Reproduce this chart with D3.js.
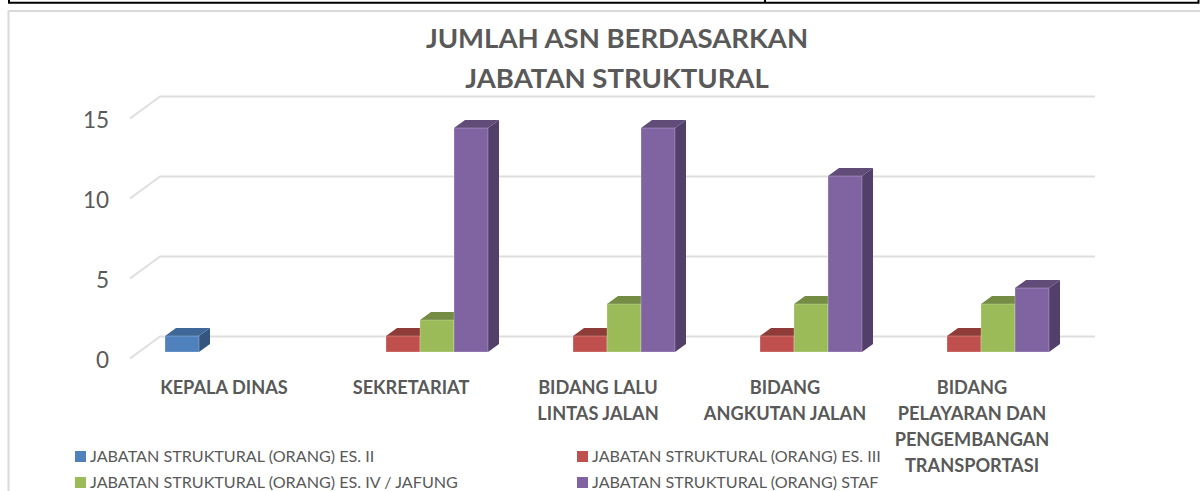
<!DOCTYPE html>
<html>
<head>
<meta charset="utf-8">
<script src="https://cdn.jsdelivr.net/npm/d3@7"></script>
<style>
html, body { margin: 0; padding: 0; background: #fff; }
svg { display: block; }
text { font-family: Lato, "Open Sans", sans-serif; fill: #595959; }
</style>
</head>
<body>
<div id="chart"></div>
<script>
// data
var categories = ["KEPALA DINAS", "SEKRETARIAT", "BIDANG LALU LINTAS JALAN", "BIDANG ANGKUTAN JALAN", "BIDANG PELAYARAN DAN PENGEMBANGAN TRANSPORTASI"];
var categoryLines = [
    ["KEPALA DINAS"],
    ["SEKRETARIAT"],
    ["BIDANG LALU", "LINTAS JALAN"],
    ["BIDANG", "ANGKUTAN JALAN"],
    ["BIDANG", "PELAYARAN DAN", "PENGEMBANGAN", "TRANSPORTASI"]
];
var seriesNames = [
    "JABATAN STRUKTURAL (ORANG) ES. II",
    "JABATAN STRUKTURAL (ORANG) ES. III",
    "JABATAN STRUKTURAL (ORANG) ES. IV / JAFUNG",
    "JABATAN STRUKTURAL (ORANG) STAF"
];
var es2 = [1, null, null, null, null];
var es3 = [null, 1, 1, 1, 1];
var es4 = [null, 2, 3, 3, 3];
var staf = [null, 14, 14, 11, 4];
var yTicks = [0, 5, 10, 15];
var titleLines = ["JUMLAH ASN BERDASARKAN", "JABATAN STRUKTURAL"];

var seriesValues = [es2, es3, es4, staf];
var front = ["#4f81bd", "#c0504d", "#9bbb59", "#8064a2"];
var topFace = ["#3f6797", "#8f3c39", "#748c43", "#604b79"];
var sideFace = ["#34567e", "#7a3331", "#62773a", "#523f6a"];

var width = 1200, height = 491;
var svg = d3.select("#chart")
    .append("svg")
    .attr("width", width)
    .attr("height", height);

// frame of the page around the chart
svg.append("rect").attr("x", 8.5).attr("y", 11).attr("width", 1300).attr("height", 600)
    .attr("fill", "none").attr("stroke", "#d9d9d9").attr("stroke-width", 2);
svg.append("path").attr("d", "M9,0V2.8H1198.5V0M765,0V2.8")
    .attr("fill", "none").attr("stroke", "#000").attr("stroke-width", 2);

// scales
var xScale = d3.scaleBand()
    .domain(categories)
    .range([139.5, 1074.5])
    .paddingInner(51 / 187)
    .paddingOuter(25.5 / 187);
var xInner = d3.scaleBand()
    .domain(d3.range(seriesValues.length))
    .range([0, xScale.bandwidth()]);
var yScale = d3.scaleLinear()
    .domain([0, 15])
    .range([352, 112]);

// wall depth of the 3d chart and depth of the bars
var wallX = 30, wallY = 22, backY = 15.5;
var depthX = 11, depthY = 8;
var wallLeft = 130, wallRight = 1095;

// gridlines
var grid = svg.append("g").attr("fill", "none").attr("stroke", "#dedede").attr("stroke-width", 2);
yTicks.forEach(function(t) {
    var y = yScale(t) - backY;
    grid.append("path").attr("d", "M" + wallLeft + "," + (y + wallY) + "L" + (wallLeft + wallX) + "," + y + "H" + wallRight);
});

// y axis
var yAxis = d3.axisLeft(yScale).tickValues(yTicks).tickSize(0).tickPadding(0);
var yG = svg.append("g")
    .attr("transform", "translate(109,8)")
    .call(yAxis);
yG.select(".domain").remove();
yG.selectAll("text").style("font-size", "22.5px");
yG.attr("font-family", null);

// bars
seriesValues.forEach(function(values, s) {
    var bars = svg.append("g").attr("class", "series-" + s);
    values.forEach(function(v, c) {
        if (v === null) return;
        var x0 = xScale(categories[c]) + xInner(s);
        var x1 = x0 + xInner.bandwidth();
        var y0 = yScale(0);
        var y1 = yScale(v);
        bars.append("path")
            .attr("d", "M" + x1 + "," + y0 + "L" + (x1 + depthX) + "," + (y0 - depthY) + "V" + (y1 - depthY) + "L" + x1 + "," + y1 + "Z")
            .attr("fill", sideFace[s]);
        bars.append("path")
            .attr("d", "M" + x0 + "," + y1 + "L" + (x0 + depthX) + "," + (y1 - depthY) + "H" + (x1 + depthX) + "L" + x1 + "," + y1 + "Z")
            .attr("fill", topFace[s]);
        bars.append("rect")
            .attr("x", x0)
            .attr("y", y1)
            .attr("width", x1 - x0)
            .attr("height", y0 - y1)
            .attr("fill", front[s])
            .attr("stroke", "#fff")
            .attr("stroke-opacity", 0.25)
            .attr("stroke-width", 1);
    });
});

// category labels
var xAxis = d3.axisBottom(xScale).tickSize(0).tickFormat("");
var xG = svg.append("g")
    .attr("transform", "translate(-9,352)")
    .call(xAxis);
xG.select(".domain").remove();
xG.selectAll(".tick").each(function(d, i) {
    var label = d3.select(this).select("text")
        .attr("y", 0).attr("dy", null)
        .style("font-size", "18.2px")
        .style("font-weight", "bold")
        .attr("text-anchor", "middle");
    categoryLines[i].forEach(function(line, j) {
        label.append("tspan").attr("x", 0).attr("y", 42 + j * 26).text(line);
    });
});

// title
svg.append("g").selectAll("text")
    .data(titleLines)
    .join("text")
    .attr("x", 617)
    .attr("y", function(d, i) { return 48 + i * 40; })
    .attr("text-anchor", "middle")
    .style("font-size", "27.5px")
    .style("font-weight", "bold")
    .text(function(d) { return d; });

// legend
var legendX = [75, 577], legendY = [451, 477];
seriesNames.forEach(function(name, i) {
    var lx = legendX[i % 2], ly = legendY[Math.floor(i / 2)];
    svg.append("rect").attr("x", lx).attr("y", ly).attr("width", 11).attr("height", 11).attr("fill", front[i]);
    svg.append("text").attr("x", lx + 15).attr("y", ly + 11).style("font-size", "16.15px").text(name);
});
</script>
</body>
</html>
